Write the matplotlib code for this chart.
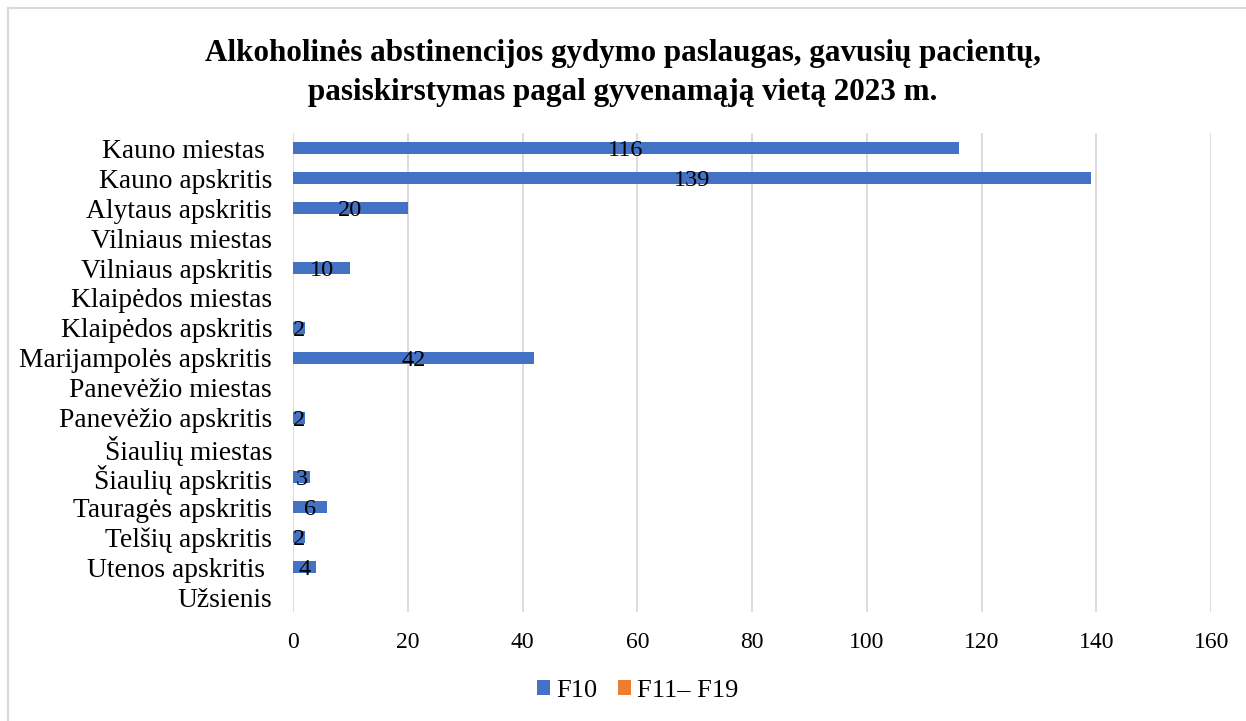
import numpy as np
import matplotlib.pyplot as plt
from matplotlib.lines import Line2D

plt.rcParams['font.family'] = ['Liberation Serif', 'DejaVu Serif']

# categories from top to bottom as shown in the chart
places = ["Kauno miestas ", "Kauno apskritis", "Alytaus apskritis",
          "Vilniaus miestas", "Vilniaus apskritis", "Klaipėdos miestas",
          "Klaipėdos apskritis", "Marijampolės apskritis", "Panevėžio miestas",
          "Panevėžio apskritis", "Šiaulių miestas", "Šiaulių apskritis",
          "Tauragės apskritis", "Telšių apskritis", "Utenos apskritis ",
          "Užsienis"]
f10 = [116, 139, 20, 0, 10, 0, 2, 42, 0, 2, 0, 3, 6, 2, 4, 0]
f11_f19 = [0] * len(places)
x_ticks = [0, 20, 40, 60, 80, 100, 120, 140, 160]

blue = "#4472C4"
orange = "#ED7D31"

fig = plt.figure(figsize=(12.46, 7.21), dpi=100)
ax = fig.add_axes([0.2352, 0.151, 0.7368, 0.664])

y = np.arange(len(places))
h = 0.4
ax.barh(y, f10, height=h, color=blue, label="F10", zorder=3)
ax.barh(y + h, f11_f19, height=h, color=orange, label="F11– F19", zorder=3)

# data labels, centred on the bars (only for non-zero values)
for yi, v in zip(y, f10):
    if v > 0:
        ax.text(v / 2, yi + 0.08, str(v), ha="center", va="center",
                fontsize=17.5, color="black", zorder=4)

ax.set_ylim(len(places) - 0.5, -0.5)
ax.set_xlim(0, 160)
ax.set_xticks(x_ticks)
ax.set_xticklabels([str(t) for t in x_ticks], fontsize=17)
ax.set_yticks(y)
ax.set_yticklabels(places, fontsize=19.8)
ax.tick_params(axis="both", length=0)
ax.tick_params(axis="x", pad=14)
ax.tick_params(axis="y", pad=15)
ax.grid(axis="x", color="#D9D9D9", linewidth=1.3, zorder=0)
for s in ax.spines.values():
    s.set_visible(False)

fig.suptitle("Alkoholinės abstinencijos gydymo paslaugas, gavusių pacientų,\n"
             "pasiskirstymas pagal gyvenamąją vietą 2023 m.",
             x=0.5, y=0.946, fontsize=22.4, fontweight="bold", linespacing=1.45)

ax.legend(loc="center", bbox_to_anchor=(0.512, 0.042), bbox_transform=fig.transFigure,
          ncol=2, frameon=False, fontsize=19, handlelength=0.5, handleheight=0.5,
          handletextpad=0.23, columnspacing=0.77)

# chart border (light grey, left and top edges visible)
fig.add_artist(Line2D([8 / 1246, 8 / 1246], [0, 1 - 8 / 721],
                      transform=fig.transFigure, color="#D9D9D9", linewidth=1.5))
fig.add_artist(Line2D([8 / 1246, 1], [1 - 8 / 721, 1 - 8 / 721],
                      transform=fig.transFigure, color="#D9D9D9", linewidth=1.5))

fig.savefig("out.png", dpi=100)
